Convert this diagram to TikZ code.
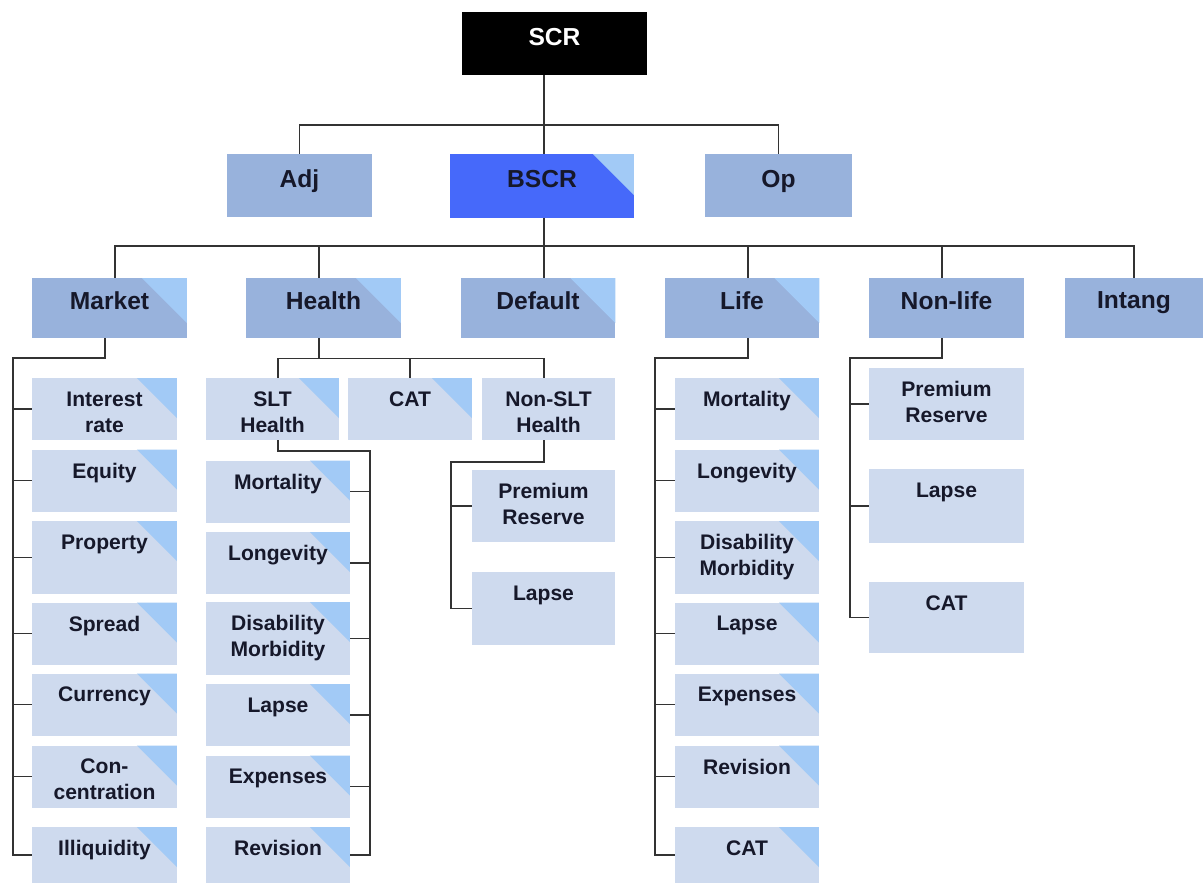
\documentclass[tikz,border=0pt]{standalone}
\usepackage{fontspec}
\setmainfont{Liberation Sans}
\usepackage{xcolor}
\definecolor{lvone}{HTML}{98B2DC}
\definecolor{lvtwo}{HTML}{CEDAEE}
\definecolor{corner}{HTML}{A2CAF6}
\definecolor{bscrblue}{HTML}{4669FA}
\definecolor{ink}{HTML}{16182A}
\definecolor{wire}{HTML}{333333}

\begin{document}
\begin{tikzpicture}[x=0.02cm,y=-0.02cm,
    conn/.style={draw=wire,line width=0.9pt},
    txta/.style={anchor=north,yshift=-0.28cm,inner sep=0pt,text=ink,
      font=\fontsize{14}{17}\selectfont\bfseries},
    txtb/.style={anchor=north,yshift=-0.27cm,inner sep=0pt,align=center,text=ink,
      font=\fontsize{12}{14.8}\selectfont\bfseries},
    boxa/.style={fill=lvone,inner sep=0pt,minimum width=3.1cm,minimum height=1.2cm,
      label={[txta]north:#1}},
    boxb/.style={fill=lvtwo,inner sep=0pt,minimum width=2.9cm,minimum height=1.24cm,
      label={[txtb]north:#1}},
    tri/.style={path picture={\fill[corner]
      ([xshift=-#1]path picture bounding box.north east) --
      (path picture bounding box.north east) --
      ([yshift=-#1]path picture bounding box.north east) -- cycle;}},
    tri/.default=0.8cm]
    \path[use as bounding box,fill=white] (0,0) rectangle (1203,883);
    %%
    \begin{scope}[every label/.append style={yshift=-0.04cm}]
      \node[fill=black,inner sep=0pt,minimum width=3.7cm,minimum height=1.26cm,
        label={[txta,text=white]north:SCR}] (scr) at (554.5,43.5) {};
      \node[boxa=Adj,minimum width=2.9cm,minimum height=1.26cm] (adj) at (299.5,185.5) {};
      \node[boxa=BSCR,tri=0.82cm,fill=bscrblue,minimum width=3.68cm,minimum height=1.28cm] (bscr) at (542,186) {};
      \node[boxa=Op,minimum width=2.94cm,minimum height=1.26cm] (op) at (778.5,185.5) {};
    \end{scope}
    %%
    \node[boxa=Market,tri=0.9cm] (mkt) at (109.5,308) {};
    \node[boxa=Health,tri=0.9cm] (hlth) at (323.5,308) {};
    \node[boxa=Default,tri=0.9cm] (dflt) at (538,308) {};
    \node[boxa=Life,tri=0.9cm] (life) at (742,308) {};
    \node[boxa=Non-life] (nlife) at (946.5,308) {};
    \node[boxa=Intang,minimum width=2.76cm] (intg) at (1134,308) {};
    %%
    \begin{scope}[boxb/.append style={tri}]
      \node[boxb=Interest\\rate] (ir) at (104.5,409) {};
      \node[boxb=Equity] (eq) at (104.5,480.5) {};
      \node[boxb=Property,minimum height=1.46cm] (prop) at (104.5,557.5) {};
      \node[boxb=Spread] (spr) at (104.5,633.5) {};
      \node[boxb=Currency] (cur) at (104.5,704.5) {};
      \node[boxb=Con-\\centration] (conc) at (104.5,776.5) {};
      \node[boxb=Illiquidity,minimum height=1.12cm] (illq) at (104.5,855) {};
    \end{scope}
    %%
    \node[boxb=SLT\\Health,tri,minimum width=2.66cm] (slt) at (272.5,409) {};
    \node[boxb=CAT,tri,minimum width=2.48cm] (hcat) at (410,409) {};
    \node[boxb=Non-SLT\\Health,minimum width=2.66cm] (nslt) at (548.5,409) {};
    \begin{scope}[boxb/.append style={tri,minimum width=2.88cm}]
      \node[boxb=Mortality] (smort) at (278,491.5) {};
      \node[boxb=Longevity] (slong) at (278,563) {};
      \node[boxb=Disability\\Morbidity,minimum height=1.46cm] (sdis) at (278,638.5) {};
      \node[boxb=Lapse] (slap) at (278,715) {};
      \node[boxb=Expenses] (sexp) at (278,786.5) {};
      \node[boxb=Revision,minimum height=1.12cm] (srev) at (278,855) {};
    \end{scope}
    \begin{scope}[boxb/.append style={minimum width=2.86cm}]
      \node[boxb=Premium\\Reserve,minimum height=1.44cm] (npr) at (543.5,506) {};
      \node[boxb=Lapse,minimum height=1.46cm] (nlap) at (543.5,608.5) {};
    \end{scope}
    %%
    \begin{scope}[boxb/.append style={tri,minimum width=2.88cm}]
      \node[boxb=Mortality] (lmort) at (747,409) {};
      \node[boxb=Longevity] (llong) at (747,480.5) {};
      \node[boxb=Disability\\Morbidity,minimum height=1.46cm] (ldis) at (747,557.5) {};
      \node[boxb=Lapse] (llap) at (747,633.5) {};
      \node[boxb=Expenses] (lexp) at (747,704.5) {};
      \node[boxb=Revision] (lrev) at (747,776.5) {};
      \node[boxb=CAT,minimum height=1.12cm] (lcat) at (747,855) {};
    \end{scope}
    \begin{scope}[boxb/.append style={minimum width=3.1cm}]
      \node[boxb=Premium\\Reserve,minimum height=1.44cm] (fpr) at (946.5,404) {};
      \node[boxb=Lapse,minimum height=1.48cm] (flap) at (946.5,506) {};
      \node[boxb=CAT,minimum height=1.42cm] (fcat) at (946.5,617.5) {};
    \end{scope}
    %%
    \coordinate (b1) at (544,125);
    \coordinate (b2) at (544,246);
    \draw[conn] (scr.south -| b1) -- (b1 |- bscr.north);
    \draw[conn] (adj.north) |- (b1) -| (op.north);
    \draw[conn] (b1 |- bscr.south) -- (b2);
    \draw[conn] ([xshift=0.11cm]mkt.north) |- (b2) -| (intg.north);
    \foreach \n/\dx in {hlth/-0.09,dflt/0.12,life/0.12,nlife/-0.09}
      \draw[conn] ([xshift=\dx cm]\n.north) -- ([xshift=\dx cm]\n.north |- b2);
    %%
    \coordinate (mb) at (13,358);
    \draw[conn] ([xshift=-0.09cm]mkt.south) |- (mb) |- (illq.west);
    \foreach \n in {ir,eq,prop,spr,cur,conc}
      \draw[conn] (\n.west) -- (\n.west -| mb);
    %%
    \draw[conn] ([xshift=-0.09cm]hlth.south) -- ++(0,20) coordinate (hb);
    \draw[conn] ([xshift=0.11cm]slt.north) |- (hb) -| ([xshift=-0.09cm]nslt.north);
    \draw[conn] (hcat.north) -- (hcat.north |- hb);
    \coordinate (sb) at (370,451);
    \draw[conn] ([xshift=0.11cm]slt.south) |- (sb) |- (srev.east);
    \foreach \n in {smort,slong,sdis,slap,sexp}
      \draw[conn] (\n.east) -- (\n.east -| sb);
    \coordinate (nb) at (451,462);
    \draw[conn] ([xshift=-0.09cm]nslt.south) |- (nb) |- (nlap.west);
    \draw[conn] (npr.west) -- (npr.west -| nb);
    %%
    \coordinate (lb) at (655,358);
    \draw[conn] ([xshift=0.12cm]life.south) |- (lb) |- (lcat.west);
    \foreach \n in {lmort,llong,ldis,llap,lexp,lrev}
      \draw[conn] (\n.west) -- (\n.west -| lb);
    \coordinate (fb) at (850,358);
    \draw[conn] ([xshift=-0.09cm]nlife.south) |- (fb) |- (fcat.west);
    \foreach \n in {fpr,flap}
      \draw[conn] (\n.west) -- (\n.west -| fb);
  \end{tikzpicture}
\end{document}
